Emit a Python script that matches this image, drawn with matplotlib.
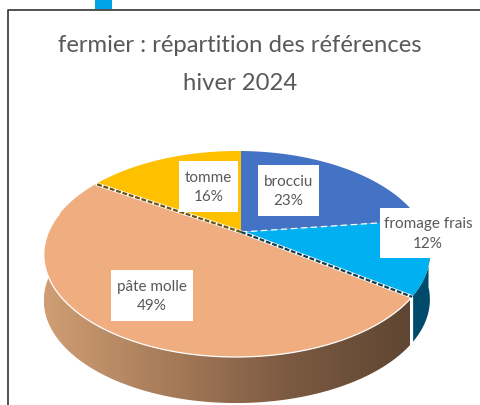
import numpy as np
import matplotlib
matplotlib.use("Agg")
import matplotlib.pyplot as plt
from matplotlib.patches import Polygon, Rectangle

title_lines = ["fermier : répartition des références", "hiver 2024"]
categories = ["brocciu", "fromage frais", "pâte molle", "tomme"]
values = [23, 12, 49, 16]
colors = ["#4472C4", "#00B0F0", "#F0AE80", "#FFC000"]

# label boxes in pixels (left, top, right, bottom)
label_boxes = [(258, 166, 319, 217), (380, 209, 476, 259), (111, 271, 193, 322), (179, 162, 238, 213)]

# pie projection, pixels of the 480x406 picture
CX, CY = 241.0, 233.0
R, RT = 188.5, 98.3
K, M = 0.2136, 0.021
DEPTH = 46


def project(theta):
    # theta clockwise from 12 o'clock, simple perspective of a tilted disc
    a = np.sin(theta)
    b = np.cos(theta)
    s = 1.0 / (1.0 + K * b + M * a)
    return CX + R * a * s, CY - RT * b * s


def rim(t0, t1, n=200):
    return project(np.linspace(t0, t1, n))


fig = plt.figure(figsize=(4.8, 4.06), dpi=100)
ax = fig.add_axes([0, 0, 1, 1])
ax.set_xlim(0, 480)
ax.set_ylim(406, 0)
ax.axis("off")

# frame and the small blue tab above it
ax.add_patch(Rectangle((95, 0), 17, 10, fc="#00A2E8", ec="none"))
ax.plot([480, 8, 8], [11, 11, 406], color="#333333", lw=1.2)

ax.text(240, 46, title_lines[0], ha="center", va="center", fontsize=17.2, color="#595959", family="Lato")
ax.text(240, 83, title_lines[1], ha="center", va="center", fontsize=17.2, color="#595959", family="Lato")

shares = np.array(values) / sum(values) * 2 * np.pi
ends = np.cumsum(shares)
starts = ends - shares

# side wall of the big slice, gradient clipped to the wall polygon
xs, ys = rim(starts[2], np.pi * 1.56)
wall = np.vstack([np.column_stack([xs, ys]), np.column_stack([xs, ys + DEPTH])[::-1]])
wall_patch = Polygon(wall, closed=True, fc="none", ec="none")
ax.add_patch(wall_patch)
grad = np.linspace(0, 1, 256).reshape(1, -1)
cmap = matplotlib.colors.LinearSegmentedColormap.from_list(
    "wall", ["#CF9E74", "#A87C5A", "#7C5A41", "#5F4633"])
img = ax.imshow(grad, extent=(44, 410, 406, 250), cmap=cmap, aspect="auto", zorder=1)
img.set_clip_path(wall_patch)
ax.set_xlim(0, 480)
ax.set_ylim(406, 0)

# side wall of the fromage frais slice
xs, ys = rim(np.pi * 0.53, ends[1])
teal = np.vstack([np.column_stack([xs, ys]), np.column_stack([xs, ys + DEPTH])[::-1]])
ax.add_patch(Polygon(teal, closed=True, fc="#004B6B", ec="none", zorder=1))

# top faces
for start, end, color in zip(starts, ends, colors):
    xs, ys = rim(start, end)
    pts = np.vstack([[CX, CY], np.column_stack([xs, ys])])
    ax.add_patch(Polygon(pts, closed=True, fc=color, ec="none", zorder=2))

# thin white rim between the top face and the wall
xs, ys = rim(starts[2], np.pi * 1.56)
ax.plot(xs, ys, color="white", lw=0.9, zorder=3)

# seam between the two walls
x1, y1 = project(ends[1])
ax.plot([x1, x1], [y1, y1 + DEPTH], color="white", lw=0.9, zorder=3)

# dark crack with white dashes along the slice joins
for t, dark in [(ends[1], "#123F50"), (ends[2], "#6B5310")]:
    x1, y1 = project(t)
    ax.plot([CX, x1], [CY, y1], color="white", lw=2.6, zorder=3, solid_capstyle="butt")
    ax.plot([CX, x1], [CY, y1], color=dark, lw=1.6, zorder=4, ls=(0, (2.2, 0.8)))
x1, y1 = project(ends[0])
ax.plot([CX, x1], [CY, y1], color="white", lw=0.9, zorder=3, ls=(0, (5, 3)))

# data labels in white boxes
for name, val, box in zip(categories, values, label_boxes):
    x0, y0, x2, y2 = box
    ax.add_patch(Rectangle((x0, y0), x2 - x0, y2 - y0, fc="white", ec="none", zorder=5))
    ax.text((x0 + x2) / 2, (y0 + y2) / 2, f"{name}\n{val}%", ha="center", va="center",
            fontsize=11, color="#595959", family="Lato", linespacing=1.5, zorder=6)

fig.savefig("out.png", dpi=100)
